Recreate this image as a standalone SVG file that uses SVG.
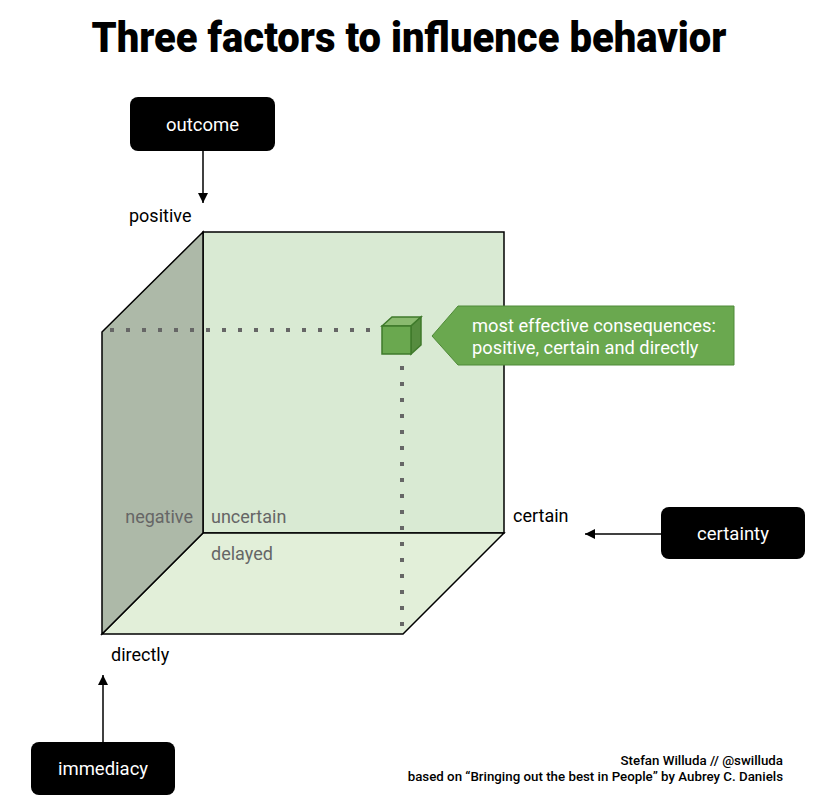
<svg xmlns="http://www.w3.org/2000/svg" width="817" height="803" viewBox="0 0 817 803">
<defs>
<style>
.lbl{font-family:Roboto,"Liberation Sans",sans-serif;font-size:18px;fill:#000}
.gray{font-family:Roboto,"Liberation Sans",sans-serif;font-size:18px;fill:#666}
.box{fill:#000}
.btxt{font-family:Roboto,"Liberation Sans",sans-serif;font-size:18.5px;fill:#fff;text-anchor:middle}
.edge{stroke:#000;stroke-width:1.5;fill:none}
.dots{stroke:#666;stroke-width:4;stroke-dasharray:4 12;fill:none}
.foot{font-family:Roboto,"Liberation Sans",sans-serif;font-size:13.3px;font-weight:500;fill:#000;text-anchor:end}
.call{font-family:Roboto,"Liberation Sans",sans-serif;font-size:18.3px;fill:#fff}
</style>
<marker id="arr" viewBox="0 0 10 10" refX="10" refY="5" markerWidth="10" markerHeight="10" markerUnits="userSpaceOnUse" orient="auto">
<path d="M0,0 L10,5 L0,10 z" fill="#000"/>
</marker>
</defs>
<rect width="817" height="803" fill="#fff"/>
<text x="409" y="52" text-anchor="middle" font-family="Roboto,'Liberation Sans',sans-serif" font-weight="900" font-size="43" textLength="635" lengthAdjust="spacingAndGlyphs">Three factors to influence behavior</text>

<g id="cube">
<polygon points="203,232 504,232 504,533 203,533" fill="#d9ead3" stroke="#000" stroke-width="1.5"/>
<polygon points="203,533 504,533 403,634 102,634" fill="#e2efd9" stroke="#000" stroke-width="1.5"/>
<polygon points="102,332 203,232 203,533 102,634" fill="#adb9a8" stroke="#000" stroke-width="1.5"/>
<text class="gray" x="193" y="523" text-anchor="end">negative</text>
<text class="gray" x="211" y="523">uncertain</text>
<text class="gray" x="211" y="560">delayed</text>
</g>

<g id="dotted-guides">
<path class="dots" d="M110,330 H372"/>
<path class="dots" d="M402,366 V632"/>
</g>

<g id="small-cube">
<polygon points="382,326 392,317 421,317 411,326" fill="#8aba6f" stroke="#3f7a2b" stroke-width="1.5"/>
<polygon points="411,326 421,317 421,345 411,354" fill="#568c3f" stroke="#3f7a2b" stroke-width="1.5"/>
<rect x="382" y="326" width="29" height="28" fill="#6aa84f" stroke="#3f7a2b" stroke-width="1.5"/>
</g>

<g id="callout">
<polygon points="432,336 458,306 734,306 734,365 458,365" fill="#6aa84f" stroke="#4f8a38" stroke-width="1"/>
<text class="call" x="472" y="332">most effective consequences:</text>
<text class="call" x="472" y="354">positive, certain and directly</text>
</g>

<g id="connectors">
<line class="edge" x1="203" y1="151" x2="203" y2="203" marker-end="url(#arr)"/>
<line class="edge" x1="661" y1="534" x2="585" y2="534" marker-end="url(#arr)"/>
<line class="edge" x1="103" y1="742" x2="103" y2="675" marker-end="url(#arr)"/>
</g>

<g id="outcome">
<rect class="box" x="130" y="97" width="145" height="54" rx="8"/>
<text class="btxt" x="202.5" y="131">outcome</text>
</g>
<g id="certainty">
<rect class="box" x="661" y="507" width="144" height="52" rx="8"/>
<text class="btxt" x="733" y="540">certainty</text>
</g>
<g id="immediacy">
<rect class="box" x="31" y="742" width="144" height="53" rx="8"/>
<text class="btxt" x="103" y="775">immediacy</text>
</g>

<g id="axis-labels">
<text class="lbl" x="129" y="222">positive</text>
<text class="lbl" x="513" y="522">certain</text>
<text class="lbl" x="111" y="661">directly</text>
</g>

<g id="footer">
<text class="foot" x="783" y="765">Stefan Willuda // @swilluda</text>
<text class="foot" x="783" y="781">based on “Bringing out the best in People” by Aubrey C. Daniels</text>
</g>
</svg>
